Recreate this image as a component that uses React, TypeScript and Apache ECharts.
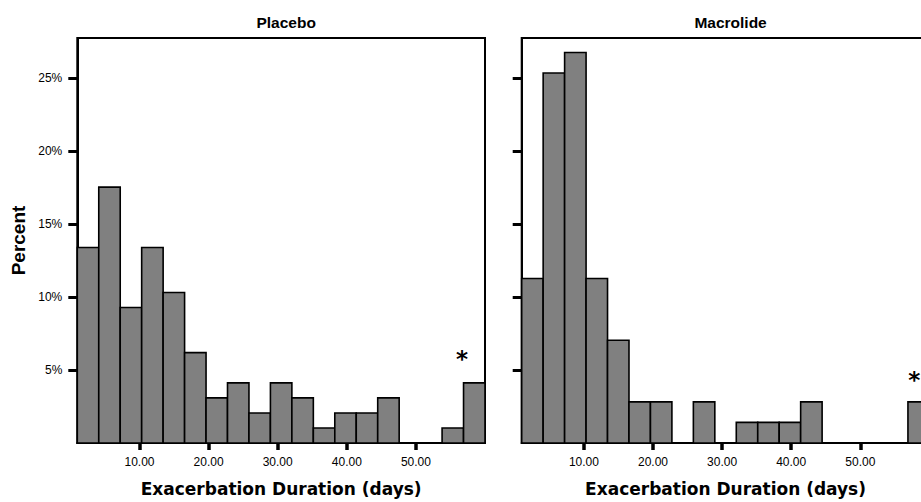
import React, { useEffect, useRef } from "react";
import * as echarts from "echarts";

// ---- Data ----
const binMin = 1; // days
const binMax = 60; // days
const placeboPct = [13.4, 17.53, 9.28, 13.4, 10.31, 6.19, 3.09, 4.12, 2.06, 4.12, 3.09, 1.03, 2.06, 2.06, 3.09, 0, 0, 1.03, 4.12];
const macrolidePct = [11.27, 25.35, 26.76, 11.27, 7.04, 2.82, 2.82, 0, 2.82, 0, 1.41, 1.41, 1.41, 2.82, 0, 0, 0, 0, 2.82];
const xTicks = [10, 20, 30, 40, 50];
const yTicks = [5, 10, 15, 20, 25];
const yMax = 27.75;
const panelTitles = ["Placebo", "Macrolide"];
const placeboStar = [56.67, 6.07];
const macrolideStar = [57.8, 4.66];

function binsOf(values: number[]) {
  const w = (binMax - binMin) / values.length;
  return values.map((v, i) => [binMin + i * w, binMin + (i + 1) * w, v]);
}

export default function App() {
  const ref = useRef<HTMLDivElement>(null);
  useEffect(() => {
    if (!ref.current) return;
    const chart = echarts.init(ref.current, undefined, { renderer: "svg" });
    const gridW = 407.7;
    const grids = [
      { left: 77.3, top: 38, width: gridW, height: 407 },
      { left: 521.7, top: 38, width: gridW, height: 407 },
    ];
    const xAxisBase = (gi: number) => ({
      type: "value",
      gridIndex: gi,
      min: binMin,
      max: binMax,
      name: "Exacerbation Duration (days)",
      nameLocation: "middle",
      nameGap: 37,
      nameTextStyle: { fontFamily: "DejaVu Sans", fontWeight: "bold", fontSize: 17, color: "#000" },
      axisLine: { show: true, lineStyle: { color: "#000", width: 2 } },
      axisTick: { show: true, customValues: xTicks, length: 7, lineStyle: { color: "#000", width: 3.5 } },
      axisLabel: {
        show: true,
        customValues: xTicks,
        margin: 13,
        fontFamily: "Liberation Sans",
        fontSize: 12,
        color: "#000",
        formatter: (v: number) => v.toFixed(2),
      },
      splitLine: { show: false },
    });
    const yAxisBase = (gi: number, labels: boolean) => ({
      type: "value",
      gridIndex: gi,
      min: 0,
      max: yMax,
      name: labels ? "Percent" : "",
      nameLocation: "middle",
      nameGap: 49,
      nameTextStyle: { fontFamily: "Liberation Sans", fontWeight: "bold", fontSize: 19, color: "#000" },
      axisLine: { show: true, lineStyle: { color: "#000", width: 2 } },
      axisTick: { show: true, customValues: yTicks, length: 9, lineStyle: { color: "#000", width: 3 } },
      axisLabel: {
        show: labels,
        customValues: yTicks,
        margin: 15,
        fontFamily: "Liberation Sans",
        fontSize: 12,
        color: "#000",
        formatter: (v: number) => `${v}%`,
      },
      splitLine: { show: false },
    });
    const barRender = (params: any, api: any) => {
      const v = api.value(2);
      if (!v) return null;
      const p0 = api.coord([api.value(0), v]);
      const p1 = api.coord([api.value(1), 0]);
      return {
        type: "rect",
        shape: { x: p0[0], y: p0[1], width: p1[0] - p0[0], height: p1[1] - p0[1] },
        style: { fill: "#808080", stroke: "#000", lineWidth: 1.6 },
      };
    };
    const starRender = (params: any, api: any) => {
      const p = api.coord([api.value(0), api.value(1)]);
      return {
        type: "text",
        x: p[0],
        y: p[1] + 5,
        style: {
          text: "*",
          fontFamily: "DejaVu Sans",
          fontWeight: "bold",
          fontSize: 23,
          fill: "#000",
          align: "center",
          verticalAlign: "middle",
        },
      };
    };
    chart.setOption({
      animation: false,
      backgroundColor: "#fff",
      title: panelTitles.map((t, i) => ({
        text: t,
        left: grids[i].left + gridW / 2,
        top: 9,
        textAlign: "center",
        textStyle: { fontFamily: "Liberation Sans", fontWeight: "bold", fontSize: 15.5, color: "#000" },
      })),
      grid: grids.map((g) => ({ ...g, show: true, borderColor: "#000", borderWidth: 2, backgroundColor: "transparent" })),
      xAxis: [xAxisBase(0), xAxisBase(1)],
      yAxis: [yAxisBase(0, true), yAxisBase(1, false)],
      series: [
        { type: "custom", xAxisIndex: 0, yAxisIndex: 0, data: binsOf(placeboPct), encode: { x: [0, 1], y: 2 }, renderItem: barRender, clip: false },
        { type: "custom", xAxisIndex: 1, yAxisIndex: 1, data: binsOf(macrolidePct), encode: { x: [0, 1], y: 2 }, renderItem: barRender, clip: false },
        { type: "custom", xAxisIndex: 0, yAxisIndex: 0, data: [placeboStar], encode: { x: 0, y: 1 }, renderItem: starRender },
        { type: "custom", xAxisIndex: 1, yAxisIndex: 1, data: [macrolideStar], encode: { x: 0, y: 1 }, renderItem: starRender },
      ],
    });
    return () => chart.dispose();
  }, []);
  return (
    <div style={{ position: "absolute", left: 0, top: 0, width: 921, height: 502, overflow: "hidden", background: "#fff" }}>
      <div ref={ref} style={{ width: 940, height: 502 }} />
    </div>
  );
}
